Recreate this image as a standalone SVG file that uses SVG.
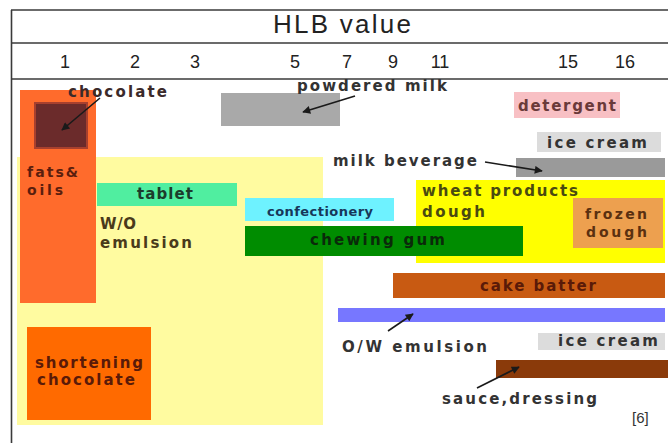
<svg xmlns="http://www.w3.org/2000/svg" width="668" height="443" viewBox="0 0 668 443">
  <defs>
    <marker id="arrow" viewBox="0 0 10 10" refX="9" refY="5" markerWidth="10" markerHeight="8" markerUnits="userSpaceOnUse" orient="auto">
      <path d="M0,0 L10,5 L0,10 z" fill="#1a1a1a"/>
    </marker>
  </defs>
  <style>
    .frame { stroke: #3a3a3a; stroke-width: 1.6; fill: none; }
    .axis { font-family: "Liberation Sans", Arial, sans-serif; fill: #222; }
    .lbl { font-family: "DejaVu Sans", Verdana, sans-serif; font-weight: bold; font-size: 15px; fill: #333; }
    .sm { font-size: 13px; }
    .two { font-size: 14px; }
    .ref { font-family: "Liberation Sans", Arial, sans-serif; font-size: 15px; fill: #333; }
    .conn { stroke: #1a1a1a; stroke-width: 1.6; fill: none; marker-end: url(#arrow); }
  </style>

  <rect width="668" height="443" fill="#ffffff"/>

  <!-- HLB scale header -->
  <g id="header">
    <line class="frame" x1="11" y1="10" x2="668" y2="10"/>
    <line class="frame" x1="11" y1="43" x2="668" y2="43"/>
    <line class="frame" x1="11" y1="79" x2="668" y2="79"/>
    <line class="frame" x1="11.5" y1="10" x2="11.5" y2="443"/>
    <text class="axis" x="342" y="33" font-size="26" text-anchor="middle" textLength="138" lengthAdjust="spacing">HLB value</text>
    <g class="axis" font-size="18" text-anchor="middle">
      <text x="65" y="68">1</text>
      <text x="135" y="68">2</text>
      <text x="195" y="68">3</text>
      <text x="295" y="68">5</text>
      <text x="347" y="68">7</text>
      <text x="393" y="68">9</text>
      <text x="440" y="68">11</text>
      <text x="568" y="68">15</text>
      <text x="625" y="68">16</text>
    </g>
  </g>

  <!-- background ranges -->
  <g id="wo-emulsion">
    <rect x="17" y="157" width="306" height="268" fill="#fffba0"/>
    <text class="lbl" x="100" y="229" textLength="36" lengthAdjust="spacing" style="fill:#4a3a1a">W/O</text>
    <text class="lbl" x="100" y="248" textLength="92" lengthAdjust="spacing" style="fill:#4a3a1a">emulsion</text>
  </g>

  <g id="wheat-products">
    <rect x="416" y="180" width="249" height="83" fill="#ffff00"/>
    <text class="lbl" x="422" y="196" textLength="156" lengthAdjust="spacing" style="fill:#4a4a10">wheat products</text>
    <text class="lbl" x="422" y="217" textLength="63" lengthAdjust="spacing" style="fill:#4a4a10">dough</text>
  </g>

  <g id="fats-oils">
    <rect x="20" y="90" width="76" height="213" fill="#ff6b2c"/>
    <text class="lbl two" x="27" y="177" textLength="51" lengthAdjust="spacing" style="fill:#5a1e0e">fats&amp;</text>
    <text class="lbl two" x="27" y="195" textLength="36" lengthAdjust="spacing" style="fill:#5a1e0e">oils</text>
  </g>

  <g id="chocolate">
    <rect x="35" y="103" width="52" height="45" fill="#6b2b2b" stroke="#a8402e" stroke-width="2"/>
    <text class="lbl" x="68" y="97" textLength="99" lengthAdjust="spacing" style="fill:#3b2a2a">chocolate</text>
  </g>

  <g id="powdered-milk">
    <rect x="221" y="93" width="119" height="33" fill="#a9a9a9"/>
    <text class="lbl" x="297" y="91" textLength="150" lengthAdjust="spacing">powdered milk</text>
  </g>

  <g id="detergent">
    <rect x="514" y="92" width="106" height="26" fill="#f8c0c4"/>
    <text class="lbl" x="518" y="111" textLength="98" lengthAdjust="spacing" style="fill:#6a3a3a">detergent</text>
  </g>

  <g id="ice-cream-1">
    <rect x="537" y="132" width="124" height="20" fill="#dcdcdc"/>
    <text class="lbl" x="547" y="148" textLength="100" lengthAdjust="spacing">ice cream</text>
  </g>

  <g id="milk-beverage">
    <rect x="516" y="158" width="149" height="19" fill="#9a9a9a"/>
    <text class="lbl" x="333" y="166" textLength="144" lengthAdjust="spacing">milk beverage</text>
  </g>

  <g id="tablet">
    <rect x="97" y="183" width="140" height="23" fill="#50eea0"/>
    <text class="lbl" x="137" y="199" textLength="56" lengthAdjust="spacing" style="fill:#1c3c2c">tablet</text>
  </g>

  <g id="confectionery">
    <rect x="245" y="198" width="149" height="23" fill="#6ef2ff"/>
    <text class="lbl sm" x="267" y="216" textLength="106" lengthAdjust="spacing" style="fill:#17375a">confectionery</text>
  </g>

  <g id="chewing-gum">
    <rect x="245" y="226" width="278" height="30" fill="#008c00"/>
    <text class="lbl" x="310" y="245" textLength="135" lengthAdjust="spacing" style="fill:#0a2a0a">chewing gum</text>
  </g>

  <g id="frozen-dough">
    <rect x="573" y="198" width="90" height="50" fill="#eda04f"/>
    <text class="lbl two" x="585" y="219" textLength="62" lengthAdjust="spacing" style="fill:#5a3010">frozen</text>
    <text class="lbl two" x="586" y="237" textLength="61" lengthAdjust="spacing" style="fill:#5a3010">dough</text>
  </g>

  <g id="cake-batter">
    <rect x="393" y="273" width="272" height="25" fill="#c85a12"/>
    <text class="lbl" x="480" y="291" textLength="116" lengthAdjust="spacing" style="fill:#5a1a08">cake batter</text>
  </g>

  <g id="ow-emulsion">
    <rect x="338" y="308" width="327" height="14" fill="#7777ff"/>
    <text class="lbl" x="342" y="352" textLength="145" lengthAdjust="spacing">O/W emulsion</text>
  </g>

  <g id="ice-cream-2">
    <rect x="538" y="333" width="127" height="17" fill="#dcdcdc"/>
    <text class="lbl" x="558" y="346" textLength="100" lengthAdjust="spacing">ice cream</text>
  </g>

  <g id="sauce-dressing">
    <rect x="496" y="360" width="172" height="18" fill="#8a3a0a"/>
    <text class="lbl" x="442" y="404" textLength="155" lengthAdjust="spacing">sauce,dressing</text>
  </g>

  <g id="shortening-chocolate">
    <rect x="27" y="327" width="124" height="93" fill="#ff6a00"/>
    <text class="lbl" x="35" y="368" textLength="108" lengthAdjust="spacing" style="fill:#5a1a08">shortening</text>
    <text class="lbl" x="37" y="385" textLength="98" lengthAdjust="spacing" style="fill:#5a1a08">chocolate</text>
  </g>

  <!-- pointer arrows from labels to their bars -->
  <g id="connectors">
    <line class="conn" x1="100" y1="98" x2="62" y2="130"/>
    <line class="conn" x1="355" y1="96" x2="303" y2="112"/>
    <line class="conn" x1="485" y1="162" x2="542" y2="171"/>
    <line class="conn" x1="388" y1="331" x2="413" y2="314"/>
    <line class="conn" x1="477" y1="388" x2="519" y2="367"/>
  </g>

  <text class="ref" x="632" y="423">[6]</text>
</svg>
